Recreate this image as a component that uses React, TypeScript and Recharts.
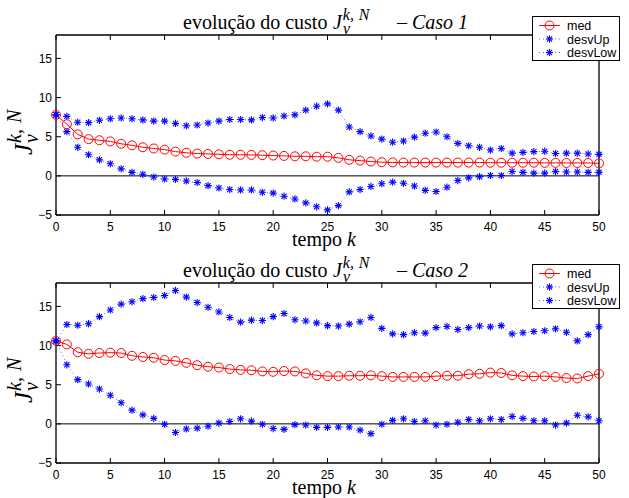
import { LineChart, Line, XAxis, YAxis, ReferenceLine, Legend } from "recharts";

// eixo k (tempo) e as séries
const tempo = Array.from({ length: 51 }, (_, i) => i);
const xTicks = [0, 5, 10, 15, 20, 25, 30, 35, 40, 45, 50];
const yTicks = [-5, 0, 5, 10, 15];

const medCaso1 = [
  7.8, 6.6, 5.3, 4.7, 4.55, 4.4, 4.1, 3.9, 3.65, 3.5, 3.35,
  3.1, 2.95, 2.85, 2.8, 2.75, 2.7, 2.7, 2.68, 2.64, 2.6,
  2.55, 2.5, 2.5, 2.45, 2.45, 2.3, 2.05, 1.95, 1.83, 1.75,
  1.72, 1.7, 1.7, 1.7, 1.7, 1.7, 1.7, 1.7, 1.7, 1.68,
  1.68, 1.68, 1.68, 1.68, 1.66, 1.66, 1.65, 1.65, 1.65, 1.6,
];
const upCaso1 = [
  7.8, 7.6, 6.85, 6.8, 7.1, 7.3, 7.4, 7.3, 7.15, 7.0, 7.0,
  6.7, 6.4, 6.5, 6.75, 7.0, 7.2, 7.2, 7.15, 7.45, 7.4,
  7.65, 7.8, 8.4, 8.9, 9.2, 8.4, 6.25, 5.65, 5.1, 4.7,
  4.3, 4.45, 4.95, 5.45, 5.6, 5.0, 4.15, 3.85, 3.65, 3.3,
  3.5, 2.9, 3.0, 3.1, 3.15, 2.85, 2.9, 2.9, 2.8, 2.75,
];
const lowCaso1 = [
  7.8, 5.65, 3.65, 2.7, 2.05, 1.55, 0.9, 0.45, 0.2, -0.15, -0.4,
  -0.45, -0.65, -0.85, -1.25, -1.55, -1.75, -1.8, -1.8, -2.1, -2.2,
  -2.6, -2.95, -3.45, -3.95, -4.35, -3.8, -2.05, -1.75, -1.35, -1.0,
  -0.8, -0.95, -1.3, -1.85, -2.0, -1.45, -0.6, -0.25, -0.1, 0.05,
  0.05, 0.55, 0.45, 0.35, 0.35, 0.55, 0.5, 0.5, 0.45, 0.45,
];

const medCaso2 = [
  10.6, 10.15, 9.15, 8.95, 9.05, 9.1, 9.05, 8.7, 8.55, 8.45, 8.15,
  8.05, 7.8, 7.5, 7.3, 7.2, 7.0, 6.9, 6.85, 6.7, 6.65,
  6.75, 6.7, 6.45, 6.2, 6.1, 6.1, 6.15, 6.15, 6.2, 6.1,
  6.0, 6.0, 6.0, 6.0, 6.1, 6.15, 6.15, 6.35, 6.4, 6.55,
  6.5, 6.2, 6.1, 6.05, 6.1, 6.0, 5.85, 5.8, 6.1, 6.4,
];
const upCaso2 = [
  10.6, 12.7, 12.6, 12.8, 13.7, 14.55, 15.3, 15.6, 16.0, 16.15, 16.4,
  17.05, 16.2, 15.5, 14.9, 14.3, 13.6, 13.0, 13.25, 13.2, 13.7,
  14.1, 13.3, 13.15, 12.9, 12.55, 12.5, 12.75, 13.05, 13.6, 12.2,
  11.5, 11.4, 11.65, 11.6, 12.3, 12.45, 12.05, 12.3, 12.5, 12.4,
  12.55, 11.5, 11.65, 11.8, 11.9, 12.15, 11.7, 10.6, 11.4, 12.4,
];
const lowCaso2 = [
  10.6, 7.55, 5.65, 5.1, 4.45, 3.65, 2.7, 1.75, 1.15, 0.7, -0.05,
  -1.1, -0.65, -0.55, -0.3, 0.1, 0.3, 0.65, 0.35, -0.05, -0.6,
  -0.7, -0.1, -0.15, -0.45, -0.45, -0.4, -0.4, -0.8, -1.25, -0.05,
  0.45, 0.65, 0.3, 0.4, -0.15, -0.05, 0.2, 0.55, 0.4, 0.65,
  0.55, 0.95, 0.7, 0.4, 0.4, -0.15, 0.1, 1.1, 0.9, 0.4,
];

const RED = "#ff0000";
const BLUE = "#0000ff";
const SANS = "'Liberation Sans', Arial, sans-serif";
const SERIF = "'Liberation Serif', 'Times New Roman', serif";

const W = 629;
const H = 249;
// eixos com 1px de espessura reservada -> área de plotagem x 56..599, y 35..215
const MARGIN = { top: 34, right: 29, bottom: 33, left: 55 };

// asterisco estilo MATLAB ('*')
function Star({ cx, cy, r = 3.6 }: { cx: number; cy: number; r?: number }) {
  const d = r * 0.72;
  return (
    <g stroke={BLUE} strokeWidth={1.1}>
      <line x1={cx - r} y1={cy} x2={cx + r} y2={cy} />
      <line x1={cx} y1={cy - r} x2={cx} y2={cy + r} />
      <line x1={cx - d} y1={cy - d} x2={cx + d} y2={cy + d} />
      <line x1={cx - d} y1={cy + d} x2={cx + d} y2={cy - d} />
    </g>
  );
}

function starDot(props: any) {
  const { cx, cy, index } = props;
  if (cx == null || cy == null) return <g key={`s-${index}`} />;
  return (
    <g key={`s-${index}`}>
      <Star cx={cx} cy={cy} />
    </g>
  );
}

function circleDot(props: any) {
  const { cx, cy, index } = props;
  if (cx == null || cy == null) return <g key={`c-${index}`} />;
  return <circle key={`c-${index}`} cx={cx} cy={cy} r={4.5} fill="none" stroke={RED} strokeWidth={1} />;
}

const fmtTick = (v: number) => String(v).replace("-", "\u2212");

function LegendBox() {
  const rows = ["med", "desvUp", "desvLow"];
  return (
    <div
      style={{
        width: 88,
        height: 45,
        border: "1px solid #000",
        background: "#fff",
        boxSizing: "border-box",
      }}
    >
      <svg width={86} height={43} style={{ display: "block" }}>
        {rows.map((name, i) => {
          const y = 8.5 + i * 13.5;
          return (
            <g key={name}>
              {i === 0 ? (
                <>
                  <line x1={6} y1={y} x2={27} y2={y} stroke={RED} strokeWidth={1} />
                  <circle cx={16.5} cy={y} r={4.5} fill="none" stroke={RED} />
                </>
              ) : (
                <>
                  <line x1={6} y1={y} x2={27} y2={y} stroke={BLUE} strokeWidth={1} strokeDasharray="1 3" strokeOpacity={0.6} />
                  <Star cx={16.5} cy={y} />
                </>
              )}
              <text x={34} y={y + 4.5} fontSize={12.5} fontFamily={SANS} fill="#000">
                {name}
              </text>
            </g>
          );
        })}
      </svg>
    </div>
  );
}

function Painel({ med, up, low }: { med: number[]; up: number[]; low: number[] }) {
  const data = tempo.map((k, i) => ({ k, med: med[i], up: up[i], low: low[i] }));
  const tickStyle = { fontSize: 12, fontFamily: SANS, fill: "#000" };
  const axisLine = { stroke: "#000", strokeWidth: 1.3 };
  return (
    <LineChart width={W} height={H} data={data} margin={MARGIN}>
      <XAxis
        xAxisId="b"
        dataKey="k"
        type="number"
        domain={[0, 50]}
        ticks={xTicks}
        height={1}
        tick={tickStyle}
        tickSize={-5}
        tickMargin={12}
        stroke="#000"
        axisLine={axisLine}
        interval={0}
      />
      <XAxis
        xAxisId="t"
        dataKey="k"
        type="number"
        orientation="top"
        domain={[0, 50]}
        ticks={xTicks}
        height={1}
        tickFormatter={() => ""}
        tickSize={-5}
        stroke="#000"
        axisLine={axisLine}
        interval={0}
      />
      <YAxis
        yAxisId="l"
        type="number"
        domain={[-5, 18]}
        ticks={yTicks}
        width={1}
        tick={tickStyle}
        tickFormatter={fmtTick}
        tickSize={-5}
        tickMargin={9}
        stroke="#000"
        axisLine={axisLine}
        interval={0}
        allowDataOverflow
      />
      <YAxis
        yAxisId="r"
        orientation="right"
        type="number"
        domain={[-5, 18]}
        ticks={yTicks}
        width={1}
        tickFormatter={() => ""}
        tickSize={-5}
        stroke="#000"
        axisLine={axisLine}
        interval={0}
      />
      <ReferenceLine xAxisId="b" yAxisId="l" y={0} stroke="#000" strokeWidth={1} />
      <Line
        xAxisId="b"
        yAxisId="l"
        dataKey="up"
        stroke={BLUE}
        strokeWidth={1}
        strokeDasharray="1 3"
        strokeOpacity={0.6}
        dot={starDot}
        activeDot={false}
        isAnimationActive={false}
      />
      <Line
        xAxisId="b"
        yAxisId="l"
        dataKey="low"
        stroke={BLUE}
        strokeWidth={1}
        strokeDasharray="1 3"
        strokeOpacity={0.6}
        dot={starDot}
        activeDot={false}
        isAnimationActive={false}
      />
      <Line
        xAxisId="b"
        yAxisId="l"
        dataKey="med"
        stroke={RED}
        strokeWidth={1}
        dot={circleDot}
        activeDot={false}
        isAnimationActive={false}
      />
      <Legend
        layout="horizontal"
        verticalAlign="middle"
        align="center"
        content={() => <LegendBox />}
        wrapperStyle={{ position: "absolute", left: 532, top: 16, width: 88, height: 45 }}
      />
    </LineChart>
  );
}

// J_nu^{k,N} em svg (índices no estilo do LaTeX: sup. mais espaçado)
function Jlabel({ x, y, size, sup }: { x: number; y: number; size: number; sup: number }) {
  return (
    <text x={x} y={y} fontFamily={SERIF} fontSize={size} fontStyle="italic" fill="#000">
      J
      <tspan dx={1} dy={size * 0.25} fontSize={sup}>ν</tspan>
      <tspan dx={-sup * 0.45} dy={-size * 0.68} fontSize={sup}>k,</tspan>
      <tspan dx={sup * 0.3} fontSize={sup}>N</tspan>
    </text>
  );
}

function Titulo({ y, caso }: { y: number; caso: string }) {
  return (
    <g>
      <text x={183} y={y} fontFamily={SERIF} fontSize={20} fill="#000">evolução do custo</text>
      <Jlabel x={333} y={y} size={20} sup={16} />
      <text x={397} y={y} fontFamily={SERIF} fontSize={20} fill="#000">
        –{" "}
        <tspan fontStyle="italic">{caso}</tspan>
      </text>
    </g>
  );
}

function Xlabel({ y }: { y: number }) {
  return (
    <text x={292} y={y} fontFamily={SERIF} fontSize={20} fill="#000">
      tempo <tspan fontStyle="italic">k</tspan>
    </text>
  );
}

function Ylabel({ cy }: { cy: number }) {
  return (
    <g transform={`translate(32, ${cy + 30}) rotate(-90)`}>
      <Jlabel x={0} y={0} size={25} sup={20} />
    </g>
  );
}

export default function App() {
  return (
    <div style={{ position: "absolute", left: 0, top: 0, width: W, height: 498, background: "#fff" }}>
      <div style={{ position: "absolute", left: 0, top: 0 }}>
        <Painel med={medCaso1} up={upCaso1} low={lowCaso1} />
      </div>
      <div style={{ position: "absolute", left: 0, top: 248 }}>
        <Painel med={medCaso2} up={upCaso2} low={lowCaso2} />
      </div>
      <svg
        width={W}
        height={498}
        style={{ position: "absolute", left: 0, top: 0, pointerEvents: "none" }}
      >
        <Titulo y={29} caso="Caso 1" />
        <Titulo y={277} caso="Caso 2" />
        <Xlabel y={246} />
        <Xlabel y={494} />
        <Ylabel cy={125} />
        <Ylabel cy={373} />
      </svg>
    </div>
  );
}
